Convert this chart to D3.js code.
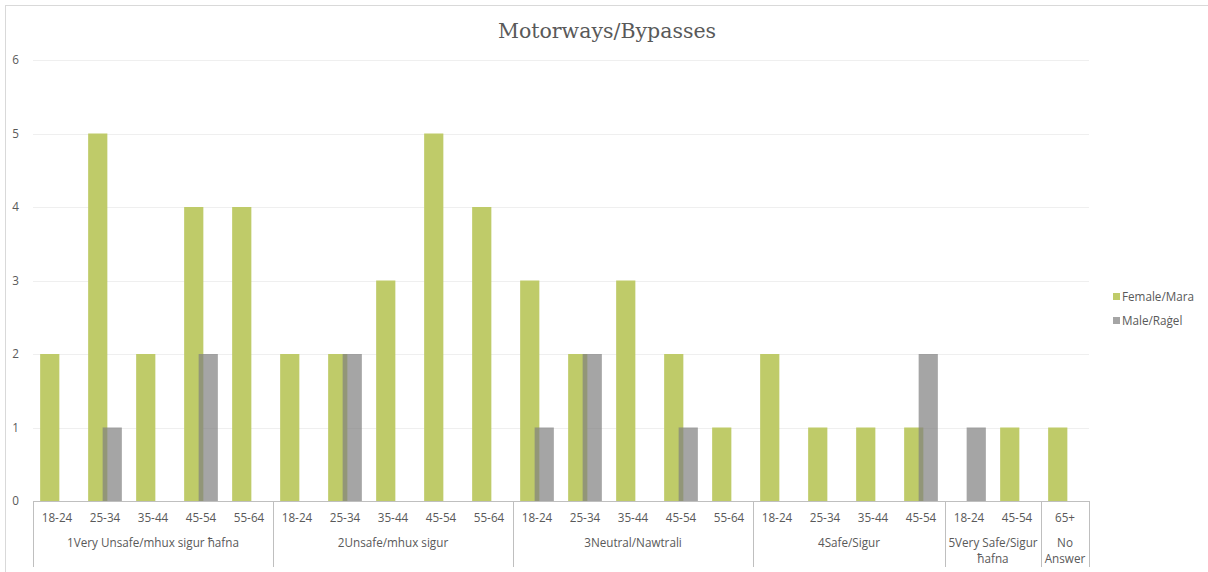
<!DOCTYPE html>
<html>
<head>
<meta charset="utf-8">
<script src="https://cdn.jsdelivr.net/npm/d3@7"></script>
<style>
  body { margin: 0; background: #fff; }
  svg { display: block; }
</style>
</head>
<body>
<svg id="chart" width="1208" height="572"></svg>
<script>
// categories (group, age) and values
var groups = ["1Very Unsafe/mhux sigur ħafna", "2Unsafe/mhux sigur", "3Neutral/Nawtrali", "4Safe/Sigur", "5Very Safe/Sigur ħafna", "No Answer"];
var groupAges = [
    ["18-24", "25-34", "35-44", "45-54", "55-64"],
    ["18-24", "25-34", "35-44", "45-54", "55-64"],
    ["18-24", "25-34", "35-44", "45-54", "55-64"],
    ["18-24", "25-34", "35-44", "45-54"],
    ["18-24", "45-54"],
    ["65+"]
];
var female = [2, 5, 2, 4, 4,  2, 2, 3, 5, 4,  3, 2, 3, 2, 1,  2, 1, 1, 1,  0, 1,  1];
var male   = [0, 1, 0, 2, 0,  0, 2, 0, 0, 0,  1, 2, 0, 1, 0,  0, 0, 0, 2,  1, 0,  0];
var seriesNames = ["Female/Mara", "Male/Raġel"];
var yTicks = [0, 1, 2, 3, 4, 5, 6];

var colors = ["#bfcb69", "#7f7f7f"];
var fontSize = "11.7px";
var svg = d3.select("#chart");

// flatten categories
var cats = [];
groupAges.forEach(function(ages, g) {
    ages.forEach(function(a) { cats.push({ group: g, age: a, key: g + "_" + a }); });
});

var x = d3.scaleBand().domain(cats.map(function(d) { return d.key; })).range([33, 1089]).padding(0);
var y = d3.scaleLinear().domain([0, 6]).range([501, 60]);

// chart border
svg.append("rect")
    .attr("x", 5.5).attr("y", 5.5)
    .attr("width", 1220).attr("height", 620)
    .attr("fill", "none").attr("stroke", "#d9d9d9");

// title
svg.append("text")
    .attr("x", 607).attr("y", 38)
    .attr("text-anchor", "middle")
    .attr("font-family", "DejaVu Serif")
    .attr("font-size", "20.5px")
    .attr("fill", "#595959")
    .text("Motorways/Bypasses");

// gridlines
svg.append("g").selectAll("line")
    .data(yTicks.filter(function(t) { return t > 0; }))
    .enter().append("line")
    .attr("x1", 33).attr("x2", 1089)
    .attr("y1", function(d) { return Math.round(y(d)) + 0.5; })
    .attr("y2", function(d) { return Math.round(y(d)) + 0.5; })
    .attr("stroke", "#efefef");

// y labels
svg.append("g").selectAll("text")
    .data(yTicks)
    .enter().append("text")
    .attr("x", 19)
    .attr("y", function(d) { return y(d) + 4; })
    .attr("text-anchor", "end")
    .attr("font-family", "Open Sans")
    .attr("font-size", fontSize)
    .attr("fill", "#595959")
    .text(function(d) { return d; });

// bars
var bw = x.bandwidth() * 0.4,
    overlap = 4.7,
    cluster = bw * 2 - overlap;

var bars = svg.append("g");
bars.selectAll("rect.f")
    .data(cats)
    .enter().append("rect")
    .attr("class", "f")
    .attr("x", function(d) { return x(d.key) + x.bandwidth() / 2 - cluster / 2; })
    .attr("width", bw)
    .attr("y", function(d, i) { return y(female[i]); })
    .attr("height", function(d, i) { return y(0) - y(female[i]); })
    .attr("fill", colors[0]);

bars.selectAll("rect.m")
    .data(cats)
    .enter().append("rect")
    .attr("class", "m")
    .attr("x", function(d) { return x(d.key) + x.bandwidth() / 2 - cluster / 2 + bw - overlap; })
    .attr("width", bw)
    .attr("y", function(d, i) { return y(male[i]); })
    .attr("height", function(d, i) { return y(0) - y(male[i]); })
    .attr("fill", colors[1])
    .attr("fill-opacity", 0.7);

// x axis line
svg.append("line")
    .attr("x1", 33).attr("x2", 1089)
    .attr("y1", 501.5).attr("y2", 501.5)
    .attr("stroke", "#bfbfbf");

// group separators
var bounds = [0];
groupAges.forEach(function(a) { bounds.push(bounds[bounds.length - 1] + a.length); });
var step = x.step();
svg.append("g").selectAll("line")
    .data(bounds)
    .enter().append("line")
    .attr("x1", function(d) { return Math.round(33 + d * step) + 0.5; })
    .attr("x2", function(d) { return Math.round(33 + d * step) + 0.5; })
    .attr("y1", 501).attr("y2", 567)
    .attr("stroke", "#bfbfbf");

// age labels
svg.append("g").selectAll("text")
    .data(cats)
    .enter().append("text")
    .attr("x", function(d) { return x(d.key) + x.bandwidth() / 2; })
    .attr("y", 522)
    .attr("text-anchor", "middle")
    .attr("font-family", "Open Sans")
    .attr("font-size", fontSize)
    .attr("fill", "#595959")
    .text(function(d) { return d.age; });

// group labels with wrapping
var gl = svg.append("g").selectAll("text")
    .data(groups)
    .enter().append("text")
    .attr("x", function(d, i) { return 33 + (bounds[i] + bounds[i + 1]) / 2 * step; })
    .attr("y", 547)
    .attr("text-anchor", "middle")
    .attr("font-family", "Open Sans")
    .attr("font-size", fontSize)
    .attr("fill", "#595959");

gl.each(function(d, i) {
    var t = d3.select(this),
        maxW = (bounds[i + 1] - bounds[i]) * step - 2,
        words = d.split(" "),
        line = [],
        cx = t.attr("x"),
        tspan = t.append("tspan").attr("x", cx);
    words.forEach(function(w) {
        line.push(w);
        tspan.text(line.join(" "));
        if (tspan.node().getComputedTextLength() > maxW && line.length > 1) {
            line.pop();
            tspan.text(line.join(" "));
            line = [w];
            tspan = t.append("tspan").attr("x", cx).attr("dy", "16px").text(w);
        }
    });
});

// legend
var legend = svg.append("g").selectAll("g")
    .data(seriesNames)
    .enter().append("g")
    .attr("transform", function(d, i) { return "translate(1113," + (293 + i * 24) + ")"; });

legend.append("rect")
    .attr("width", 7).attr("height", 7)
    .attr("fill", function(d, i) { return colors[i]; })
    .attr("fill-opacity", function(d, i) { return i == 1 ? 0.7 : 1; });

legend.append("text")
    .attr("x", 9).attr("y", 8)
    .attr("font-family", "Open Sans")
    .attr("font-size", fontSize)
    .attr("fill", "#595959")
    .text(function(d) { return d; });
</script>
</body>
</html>
